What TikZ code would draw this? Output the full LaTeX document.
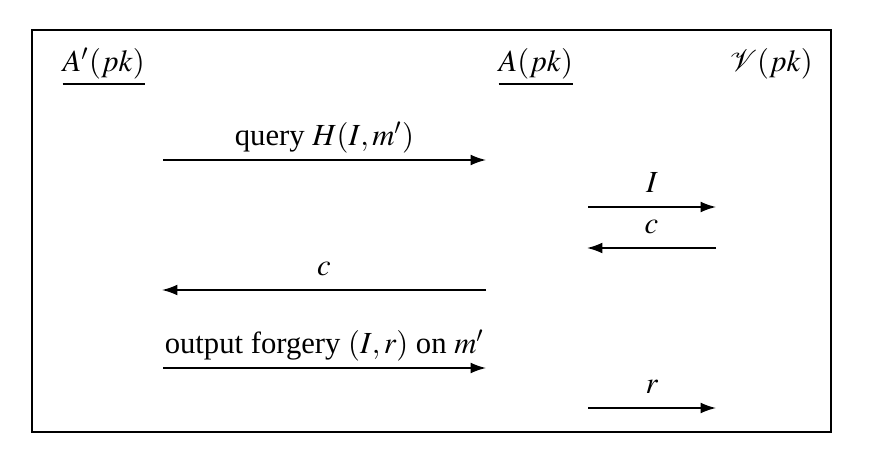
\documentclass[tikz,border=0pt]{standalone}
\usepackage{mathptmx}
\usepackage[no-math]{fontspec}
\setmainfont{Liberation Serif}
\usetikzlibrary{arrows.meta}
\tikzset{
	party/.style={inner sep=0pt, anchor=base west},
	msg/.style={line width=0.5pt, -{Latex[length=5pt,width=3.5pt]}},
	lbl/.style={inner sep=0pt, anchor=base, yshift=4.6pt}
}
\begin{document}
\begin{tikzpicture}[x=0.326pt, y=-0.326pt]
	\useasboundingbox (0,0) rectangle (872,458);
	\draw[line width=0.6pt] (32,30) rectangle (831,432);
	\node[party](Aprime) at (62,72) {$\underline{A'(pk)}$};
	\node[party](A) at (498,72) {$\underline{A(pk)}$};
	\node[party](V) at (729,72) {$\mathcal{V}(pk)$};
	\coordinate (q1) at (163,160);
	\coordinate (q2) at (486,160);
	\coordinate (i1) at (588,207);
	\coordinate (i2) at (716,207);
	\coordinate (c1) at (716,248);
	\coordinate (c2) at (587,248);
	\coordinate (d1) at (486,290);
	\coordinate (d2) at (162,290);
	\coordinate (o1) at (163,368);
	\coordinate (o2) at (486,368);
	\coordinate (r1) at (588,408);
	\coordinate (r2) at (716,408);
	\draw[msg] (q1) -- node[lbl](query) {query $H(I,m')$} (q2);
	\draw[msg] (i1) -- node[lbl](comm) {$I$} (i2);
	\draw[msg] (c1) -- node[lbl](chal) {$c$} (c2);
	\draw[msg] (d1) -- node[lbl](hash) {$c$} (d2);
	\draw[msg] (o1) -- node[lbl](forge) {output forgery $(I,r)$ on $m'$} (o2);
	\draw[msg] (r1) -- node[lbl](resp) {$r$} (r2);
\end{tikzpicture}
\end{document}
